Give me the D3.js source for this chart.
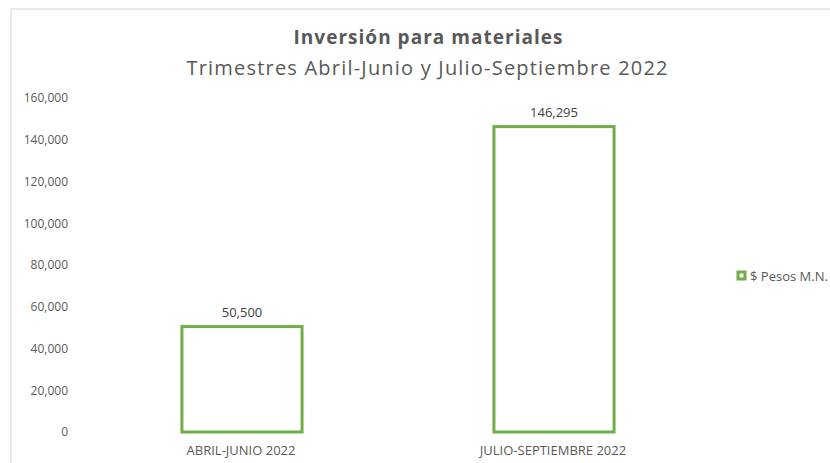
<!DOCTYPE html>
<html>
<head>
<meta charset="utf-8">
<script src="https://cdn.jsdelivr.net/npm/d3@7"></script>
<style>
  body { margin: 0; background: #fff; }
  svg text { font-family: "Open Sans", "Noto Sans", sans-serif; }
</style>
</head>
<body>
<svg id="chart" width="830" height="463"></svg>
<script>
// chart data
const categories = ["ABRIL-JUNIO 2022", "JULIO-SEPTIEMBRE 2022"];
const values = [50500, 146295];
const yTicks = [0, 20000, 40000, 60000, 80000, 100000, 120000, 140000, 160000];
const seriesName = "$ Pesos M.N.";
const titleText = "Inversión para materiales";
const subtitleText = "Trimestres Abril-Junio y Julio-Septiembre 2022";

const svg = d3.select("svg#chart");
const green = "#70ad47";
const grey = "#595959";

// outer chart border (cut off at right and bottom)
svg.append("rect")
  .attr("x", 11).attr("y", 9)
  .attr("width", 840).attr("height", 480)
  .attr("fill", "none")
  .attr("stroke", "#e3e3e3")
  .attr("stroke-width", 1.5);

// titles
svg.append("text")
  .attr("x", 428).attr("y", 44)
  .attr("text-anchor", "middle")
  .attr("textLength", 269)
  .style("font-size", "19px")
  .style("font-weight", "bold")
  .style("fill", grey)
  .text(titleText);

svg.append("text")
  .attr("x", 427).attr("y", 75)
  .attr("text-anchor", "middle")
  .attr("textLength", 481)
  .style("font-size", "20px")
  .style("fill", grey)
  .text(subtitleText);

const margin = { top: 98, left: 85, right: 121, bottom: 31 };
const width = 830 - margin.left - margin.right;
const height = 463 - margin.top - margin.bottom;

const g = svg.append("g")
  .attr("transform", "translate(" + margin.left + "," + margin.top + ")");

const x = d3.scaleBand()
  .domain(categories)
  .range([0, width])
  .paddingInner(0.615)
  .paddingOuter(0.3075);

const y = d3.scaleLinear()
  .domain([0, 160000])
  .range([height, 0]);

// y axis labels only
const yAxis = g.append("g")
  .attr("transform", "translate(-14,0)")
  .call(d3.axisLeft(y).tickValues(yTicks).tickSize(0).tickFormat(d3.format(",")));
yAxis.select(".domain").remove();
yAxis.selectAll("text")
  .style("font-size", "12px")
  .style("fill", grey)
  .style("font-family", "'Open Sans', sans-serif");

// x axis labels
const xAxis = g.append("g")
  .attr("transform", "translate(0," + height + ")")
  .call(d3.axisBottom(x).tickSize(0).tickPadding(14));
xAxis.select(".domain").remove();
xAxis.selectAll("text")
  .style("font-size", "13px")
  .style("fill", grey)
  .style("font-family", "'Open Sans', sans-serif");

// bars (outline only)
g.selectAll(".bar")
  .data(values)
  .enter().append("rect")
  .attr("class", "bar")
  .attr("x", (d, i) => x(categories[i]) + 1)
  .attr("y", d => y(d))
  .attr("width", x.bandwidth())
  .attr("height", d => height - y(d))
  .attr("fill", "#fff")
  .attr("stroke", green)
  .attr("stroke-width", 3);

// value labels
g.selectAll(".label")
  .data(values)
  .enter().append("text")
  .attr("class", "label")
  .attr("x", (d, i) => x(categories[i]) + x.bandwidth() / 2 + 1)
  .attr("y", d => y(d) - 10)
  .attr("text-anchor", "middle")
  .style("font-size", "13px")
  .style("fill", "#404040")
  .text(d => d3.format(",")(d));

// legend
const legend = svg.append("g").attr("transform", "translate(737,271)");
legend.append("rect")
  .attr("x", 1).attr("y", 1)
  .attr("width", 7).attr("height", 7)
  .attr("fill", "#fff")
  .attr("stroke", green)
  .attr("stroke-width", 3);
legend.append("text")
  .attr("x", 13).attr("y", 9.5)
  .style("font-size", "13px")
  .style("fill", grey)
  .text(seriesName);
</script>
</body>
</html>
